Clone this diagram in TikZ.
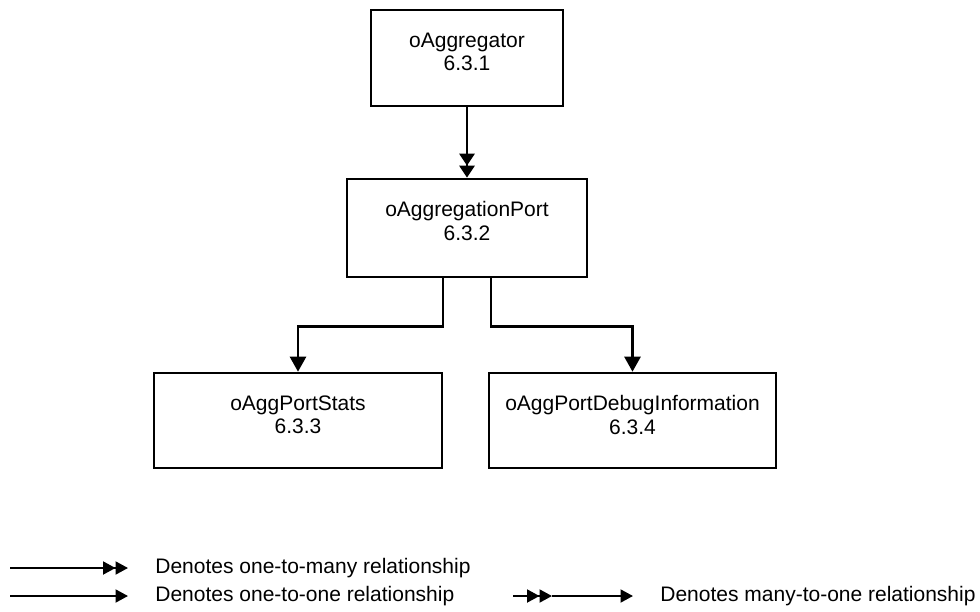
\documentclass[tikz,border=0pt]{standalone}
\usepackage{fontspec}
\setmainfont{Liberation Sans}
\usetikzlibrary{arrows.meta}
\tikzset{
  Tri/.tip={Triangle[length=7.5pt,width=8pt]},
  DTri/.tip={Triangle[length=6pt,width=7.5pt]Triangle[length=6pt,width=7.5pt]},
  KTri/.tip={Triangle[length=6.25pt,width=6.5pt]},
  KDTri/.tip={Triangle[length=6.25pt,width=6.5pt]Triangle[length=6.25pt,width=6.5pt]},
}
\begin{document}
\begin{tikzpicture}[x=0.5pt,y=-0.5pt,
  font=\fontsize{10.5}{11.75}\selectfont,
  objbox/.style={draw, line width=1.3pt, inner sep=0pt},
  objname/.style={anchor=north, align=center, inner sep=0pt},
  link/.style={line width=1.3pt},
  key/.style={line width=1pt},
  keytext/.style={anchor=west, inner sep=0pt}]
  \useasboundingbox (0,0) rectangle (980,611);

  % managed object classes
  \node[objbox, minimum width=96pt,  minimum height=48pt]   (agg)   at (467,58)    {};
  \node[objbox, minimum width=120pt, minimum height=49pt]   (port)  at (467,228)   {};
  \node[objbox, minimum width=144pt, minimum height=47.5pt] (stats) at (298,420.5) {};
  \node[objbox, minimum width=143.5pt, minimum height=47.5pt] (debug) at (632.5,420.5) {};

  \node[objname] (aggT)   at ([yshift=-11.75pt]agg.north)   {oAggregator\\6.3.1};
  \node[objname] (portT)  at ([yshift=-11.75pt]port.north)  {oAggregationPort\\6.3.2};
  \node[objname] (statsT) at ([yshift=-11.75pt]stats.north) {oAggPortStats\\6.3.3};
  \node[objname] (debugT) at ([yshift=-11.75pt]debug.north) {oAggPortDebugInformation\\6.3.4};

  % containment relationships
  \draw[link, -DTri] (agg.south) -- (port.north);
  \draw[link, -Tri] ([xshift=-12pt]port.south) -- ++(0pt,-24pt) -| (stats.north);
  \draw[link, -Tri] ([xshift=12pt]port.south) -- ++(0pt,-24pt) -| (debug.north);

  % key
  \coordinate (k1a) at (10,568);
  \coordinate (k1b) at (128,568);
  \coordinate (k2a) at (10,596);
  \coordinate (k2b) at (128,596);
  \coordinate (k3a) at (513,596);
  \coordinate (k3m) at (552,596);
  \coordinate (k3b) at (633,596);
  \draw[key, -KDTri] (k1a) -- (k1b);
  \draw[key, -KTri] (k2a) -- (k2b);
  \draw[key, -KDTri] (k3a) -- (k3m);
  \draw[key, -KTri] (k3m) -- (k3b);
  \node[keytext] (k1t) at (155,568) {Denotes one-to-many relationship};
  \node[keytext] (k2t) at (155,596) {Denotes one-to-one relationship};
  \node[keytext] (k3t) at (660,596) {Denotes many-to-one relationship};
\end{tikzpicture}
\end{document}
